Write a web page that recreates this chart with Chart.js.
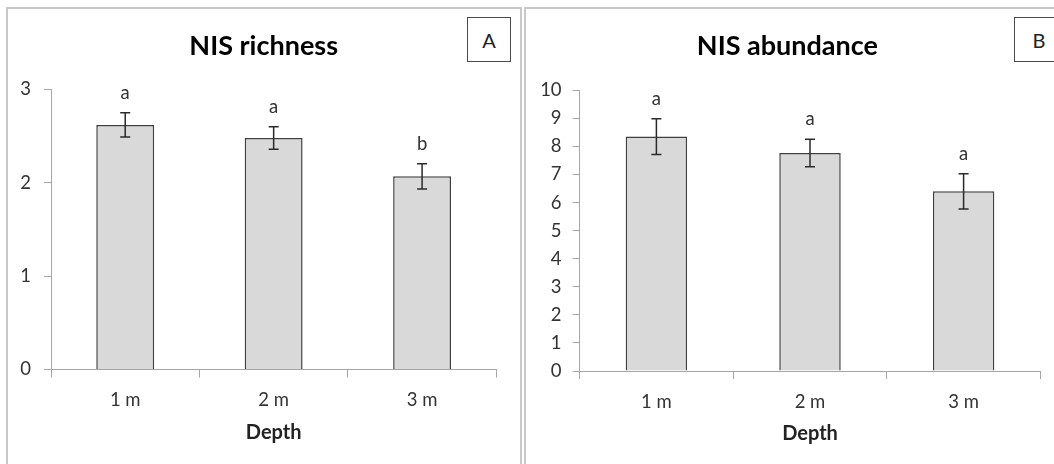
<!DOCTYPE html>
<html><head><meta charset="utf-8">
<script src="https://cdn.jsdelivr.net/npm/chart.js@4"></script>
<style>
html,body{margin:0;padding:0;background:#fff;}
body{width:1054px;height:464px;overflow:hidden;position:relative;font-family:Lato,sans-serif;}
.panel{position:absolute;border:2px solid #c8c8c8;border-bottom:none;box-sizing:border-box;}
#pA{left:6px;top:7px;width:516px;height:470px;}
#pB{left:524px;top:7px;width:600px;height:470px;border-right:none;}
canvas{position:absolute;top:0;}
#cA{left:8px;}
#cB{left:526px;}
.tag{position:absolute;top:17px;height:45px;border:1.5px solid #4a4a4a;box-sizing:border-box;background:#fff;
 font-family:Lato,sans-serif;font-size:20px;color:#222;display:flex;align-items:center;justify-content:center;z-index:3;}
#tA{left:467px;width:44px;}
#tB{left:1014px;width:50px;}
</style></head>
<body>
<div class="panel" id="pA"></div>
<div class="panel" id="pB"></div>
<canvas id="cA" width="512" height="464" style="width:512px;height:464px"></canvas>
<canvas id="cB" width="528" height="464" style="width:528px;height:464px"></canvas>
<div class="tag" id="tA">A</div>
<div class="tag" id="tB">B</div>
<script>
// ---- data ----
const depthLabels = ['1 m', '2 m', '3 m'];
const xAxisTitle = 'Depth';

const richnessTitle = 'NIS richness';
const richnessMean = [2.62, 2.48, 2.07];
const richnessSE = [0.13, 0.12, 0.135];
const richnessLetters = ['a', 'a', 'b'];
const richnessMax = 3;

const abundanceTitle = 'NIS abundance';
const abundanceMean = [8.35, 7.77, 6.40];
const abundanceSE = [0.64, 0.49, 0.63];
const abundanceLetters = ['a', 'a', 'a'];
const abundanceMax = 10;

// ---- error bars + letters plugin ----
const errPlugin = {
  id: 'errbars',
  afterDatasetsDraw(chart) {
    const ctx = chart.ctx;
    const y = chart.scales.y;
    chart.data.datasets.forEach((ds, di) => {
      const meta = chart.getDatasetMeta(di);
      meta.data.forEach((bar, i) => {
        const v = ds.data[i], e = ds.err[i];
        const yt = y.getPixelForValue(v + e);
        const yb = y.getPixelForValue(v - e);
        const x = bar.x;
        ctx.save();
        ctx.strokeStyle = '#2a2a2a';
        ctx.lineWidth = 1.5;
        ctx.beginPath();
        ctx.moveTo(x, yt); ctx.lineTo(x, yb);
        ctx.moveTo(x - 5, yt); ctx.lineTo(x + 5, yt);
        ctx.moveTo(x - 5, yb); ctx.lineTo(x + 5, yb);
        ctx.stroke();
        ctx.fillStyle = '#333';
        ctx.font = '18.5px Lato';
        ctx.textAlign = 'center';
        ctx.textBaseline = 'middle';
        ctx.fillText(ds.letters[i], x, yt - 20);
        ctx.restore();
      });
    });
  }
};

function makeChart(id, c) {
  const scales = {
    x: {
      grid: { display: true, drawOnChartArea: false, drawTicks: true, tickLength: 8, color: '#a6a6a6', offset: true },
      border: { display: true, color: '#a6a6a6', width: 1 },
      ticks: { font: { family: 'Lato', size: 18.5 }, color: '#333', padding: 11.6 },
      title: { display: true, text: xAxisTitle, color: '#222',
        font: { family: 'Lato', size: 20, weight: 'bold' }, padding: { top: 0, bottom: c.xTitleBottom } },
      afterFit(s) { s.height = c.xH; }
    },
    y: {
      min: 0, max: c.max,
      ticks: { stepSize: 1, font: { family: 'Lato', size: 18.5 }, color: '#333', padding: c.yPad },
      grid: { drawOnChartArea: false, drawTicks: true, tickLength: 7, color: '#a6a6a6' },
      border: { display: true, color: '#a6a6a6', width: 1 },
      afterFit(s) { s.width = c.yW; }
    }
  };
  if (c.rightW) {
    scales.yr = {
      position: 'right', display: true, min: 0, max: c.max,
      grid: { display: false }, border: { display: false }, ticks: { display: false },
      afterFit(s) { s.width = c.rightW; }
    };
  }
  return new Chart(document.getElementById(id), {
    type: 'bar',
    data: {
      labels: depthLabels,
      datasets: [{
        data: c.mean, err: c.se, letters: c.letters, yAxisID: 'y',
        backgroundColor: '#d9d9d9', borderColor: '#3f3f3f', borderWidth: 1.5,
        barPercentage: c.barPct, categoryPercentage: 1
      }]
    },
    options: {
      responsive: false, animation: false, devicePixelRatio: 1,
      layout: { padding: { left: c.padL, right: c.padR, top: 0, bottom: 0 } },
      plugins: {
        legend: { display: false }, tooltip: { enabled: false },
        title: {
          display: true, text: c.title, color: '#000',
          font: { family: 'Lato', size: 27, weight: 'bold' },
          padding: { top: c.titleTop, bottom: c.titleBottom }
        }
      },
      scales
    },
    plugins: [errPlugin]
  });
}

makeChart('cA', {
  title: richnessTitle, mean: richnessMean, se: richnessSE, letters: richnessLetters, max: richnessMax,
  barPct: 0.39, padL: 7, padR: 7.6, yW: 36, yPad: 13, rightW: 16.1,
  titleTop: 29.8, titleBottom: 27.3, xH: 94.5, xTitleBottom: 19.4
});
makeChart('cB', {
  title: abundanceTitle, mean: abundanceMean, se: abundanceSE, letters: abundanceLetters, max: abundanceMax,
  barPct: 0.40, padL: 8.4, padR: 13.6, yW: 45.2, yPad: 11,
  titleTop: 29.8, titleBottom: 28.1, xH: 93, xTitleBottom: 18
});
</script>
</body></html>
